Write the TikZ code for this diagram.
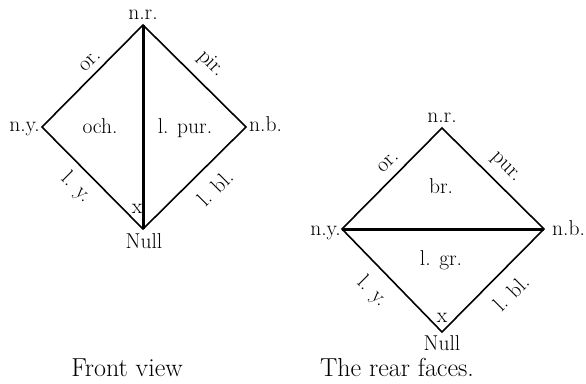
\documentclass[tikz,border=0pt]{standalone}
\usepackage{fontspec}
\begin{document}
\begin{tikzpicture}[x=1pt,y=-1pt,
  edge/.style={line width=1.6pt, line join=miter},
  thickedge/.style={line width=3pt},
  lbl/.style={inner sep=0pt, font=\fontsize{21.5}{24}\selectfont},
  captext/.style={inner sep=0pt, font=\fontsize{26}{30}\selectfont}]
\useasboundingbox (0,0) rectangle (586,383);
% left diamond (front view)
\coordinate (LT) at (143,25);
\coordinate (LY) at (42,127);
\coordinate (LB) at (246,127);
\coordinate (LN) at (143,229);
\draw[edge] (LT) -- (LY) -- (LN) -- (LB) -- cycle;
\draw[thickedge] (LT) -- (LN);
\node[lbl, anchor=base] (lnr) at (143,19) {n.r.};
\node[lbl, anchor=base east] (lny) at (40,131) {n.y.};
\node[lbl, anchor=base west] (lnb) at (249,131) {n.b.};
\node[lbl, anchor=base] (lnull) at (144,248) {Null};
\node[lbl, anchor=base] (loch) at (100,133) {och.};
\node[lbl, anchor=base] (lpur) at (185,133) {l. pur.};
\node[lbl, anchor=base] (lx) at (137,213) {x};
\node[lbl, rotate=45] (lor) at (90,61) {or.};
\node[lbl, rotate=-45] (lpir) at (211,64) {pir.};
\node[lbl, rotate=-45] (lly) at (76,188) {l. y.};
\node[lbl, rotate=45] (llbl) at (215,188) {l. bl.};
\node[captext, anchor=base] (lcap) at (127,376) {Front view};
% right diamond (rear faces)
\coordinate (RT) at (442,128);
\coordinate (RY) at (342,229);
\coordinate (RB) at (544,229);
\coordinate (RN) at (442,332);
\draw[edge] (RT) -- (RY) -- (RN) -- (RB) -- cycle;
\draw[thickedge] (RY) -- (RB);
\node[lbl, anchor=base] (rnr) at (442,122) {n.r.};
\node[lbl, anchor=base east] (rny) at (341,235) {n.y.};
\node[lbl, anchor=base west] (rnb) at (552,235) {n.b.};
\node[lbl, anchor=base] (rnull) at (442,350) {Null};
\node[lbl, anchor=base] (rbr) at (441,193) {br.};
\node[lbl, anchor=base] (rgr) at (441,265) {l. gr.};
\node[lbl, anchor=base] (rx) at (442,322) {x};
\node[lbl, rotate=45] (ror) at (388,162) {or.};
\node[lbl, rotate=-45] (rpur) at (505,168) {pur.};
\node[lbl, rotate=-45] (rly) at (372,292) {l. y.};
\node[lbl, rotate=45] (rlbl) at (511,293) {l. bl.};
\node[captext, anchor=base] (rcap) at (397,376) {The rear faces.};
\end{tikzpicture}
\end{document}
